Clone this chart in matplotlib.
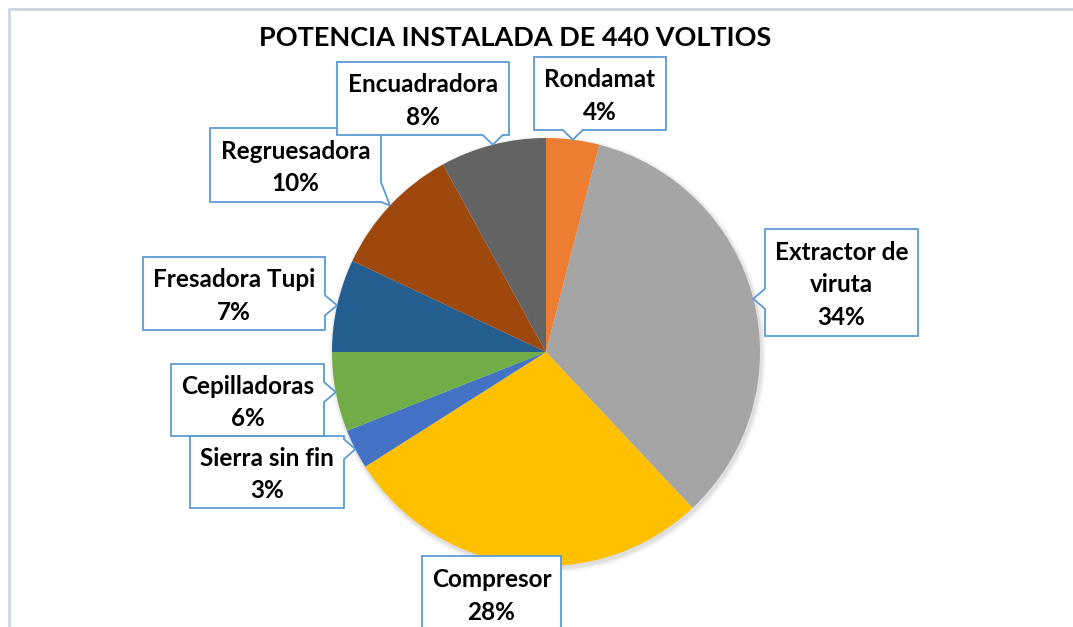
import matplotlib
matplotlib.use("Agg")
import matplotlib.pyplot as plt
import numpy as np
from matplotlib.patches import Polygon, Rectangle, Circle

plt.rcParams['font.family'] = ['Lato', 'DejaVu Sans']

# ---- data ----
categories = ["Rondamat", "Extractor de\nviruta", "Compresor", "Sierra sin fin",
              "Cepilladoras", "Fresadora Tupi", "Regruesadora", "Encuadradora"]
values = [4, 34, 28, 3, 6, 7, 10, 8]
colors = ["#ED7D31", "#A5A5A5", "#FFC000", "#4472C4",
          "#70AD47", "#255E91", "#9E480E", "#636363"]
title = "POTENCIA INSTALADA DE 440 VOLTIOS"

# ---- layout (image pixel coords: x0, x1, y_top, y_bottom) ----
W, H = 1073, 627
boxes = [
    (534, 666, 57, 130),
    (765, 918, 229, 336),
    (422, 561, 556, 631),
    (190, 344, 436, 508),
    (171, 324, 364, 436),
    (143, 325, 257, 330),
    (210, 381, 128, 202),
    (337, 509, 62, 135),
]
pie_center = (546, H - 352)
pie_radius = 214

fig = plt.figure(figsize=(W / 100, H / 100), dpi=100)
ax = fig.add_axes([0, 0, 1, 1])

# border of chart area
ax.add_patch(Rectangle((9, -20), 1200, H - 9 + 20, fill=False,
                       edgecolor="#CBD5E0", linewidth=2, zorder=0))

# soft shadow
for i, a in enumerate([0.035, 0.03, 0.025, 0.02, 0.015]):
    ax.add_patch(Circle((pie_center[0] + 1.5, pie_center[1] - 2.5), pie_radius + 1 + i,
                        facecolor="black", alpha=a, edgecolor="none", zorder=1))

wedges, _ = ax.pie(values, colors=colors, startangle=90, counterclock=False,
                   center=pie_center, radius=pie_radius,
                   wedgeprops=dict(linewidth=0, zorder=2))
for w in wedges:
    w.set_zorder(2)


def callout(box, tip, half=10):
    x0, x1, yt, yb = box
    y0, y1 = H - yb, H - yt  # bottom, top in y-up
    tx, ty = tip
    if x0 <= tx <= x1 and y0 <= ty <= y1:
        return [(x0, y0), (x0, y1), (x1, y1), (x1, y0)]
    dx = max(x0 - tx, 0, tx - x1)
    dy = max(y0 - ty, 0, ty - y1)
    if dy >= dx:
        c = np.clip(tx, x0 + half, x1 - half)
        if ty < y0:  # bottom
            pts = [(x0, y1), (x1, y1), (x1, y0), (c + half, y0), (tx, ty), (c - half, y0), (x0, y0)]
        else:
            pts = [(x0, y0), (x0, y1), (c - half, y1), (tx, ty), (c + half, y1), (x1, y1), (x1, y0)]
    else:
        c = np.clip(ty, y0 + half, y1 - half)
        if tx > x1:  # right
            pts = [(x0, y0), (x0, y1), (x1, y1), (x1, c + half), (tx, ty), (x1, c - half), (x1, y0)]
        else:
            pts = [(x1, y0), (x1, y1), (x0, y1), (x0, c + half), (tx, ty), (x0, c - half), (x0, y0)]
    return pts


for i, (w, lab, v, box) in enumerate(zip(wedges, categories, values, boxes)):
    mid = np.deg2rad((w.theta1 + w.theta2) / 2)
    tip = (pie_center[0] + pie_radius * np.cos(mid), pie_center[1] + pie_radius * np.sin(mid))
    pts = callout(box, tip)
    ax.add_patch(Polygon(pts, closed=True, facecolor="white", edgecolor="#5B9BD5",
                         linewidth=1.3, zorder=5 + i))
    x0, x1, yt, yb = box
    ax.text((x0 + x1) / 2, H - (yt + yb) / 2 - 2.5, f"{lab}\n{v}%", ha="center", va="center",
            fontsize=17.5, fontweight="bold", color="black", linespacing=1.5, zorder=5 + i)

ax.text(515, H - 38, title, ha="center", va="center", fontsize=19.5,
        fontweight="bold", color="black", zorder=20)

ax.set_xlim(0, W)
ax.set_ylim(0, H)
ax.set_aspect("equal")
ax.axis("off")
fig.savefig("out.png", dpi=100)
